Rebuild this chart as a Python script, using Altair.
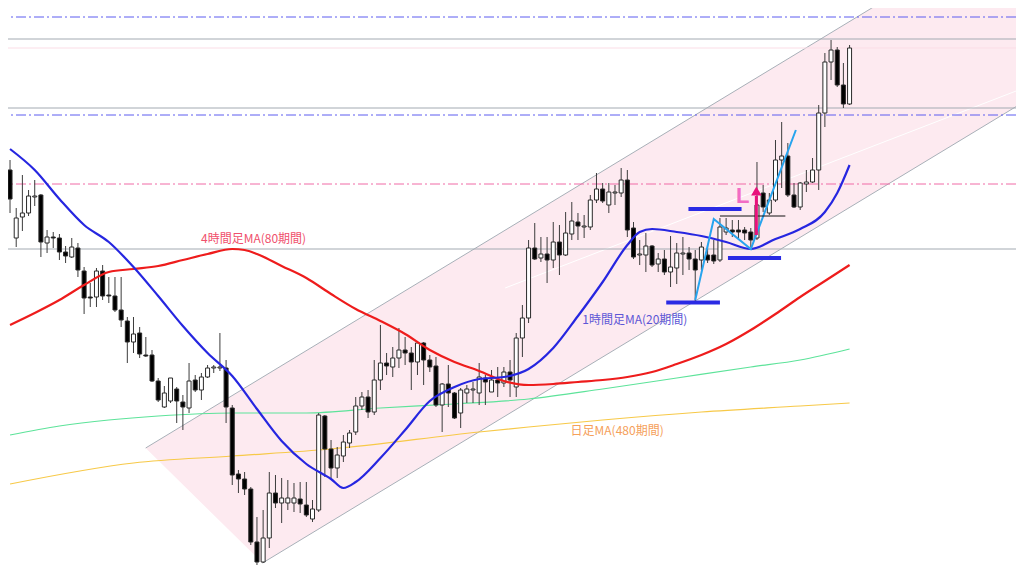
import altair as alt
import pandas as pd

# ---------------- candle data (bar index 0..136) ----------------
bar_index = list(range(137))
opens = [148.30,147.62,147.83,147.87,148.03,148.05,147.57,147.63,147.62,147.48,
         147.43,147.52,147.29,147.03,147.03,147.29,147.05,147.04,146.90,146.79,
         146.58,146.67,146.45,146.45,146.19,145.93,145.99,146.11,145.98,145.92,
         146.20,146.10,146.23,146.32,146.32,146.32,145.92,145.26,145.21,145.11,
         144.58,144.38,144.62,145.07,144.97,144.97,144.97,145.01,144.95,144.81,
         144.90,145.84,145.51,145.32,145.44,145.57,145.68,145.94,146.03,145.88,
         146.20,146.37,146.33,146.42,146.50,146.47,146.38,146.57,146.40,146.34,
         145.95,146.16,146.07,145.87,146.07,146.10,146.07,146.22,146.08,146.20,
         146.17,146.28,146.13,146.62,146.82,147.52,147.42,147.46,147.40,147.58,
         147.45,147.66,147.78,147.73,147.73,148.00,148.11,147.95,148.07,148.07,
         148.20,147.72,147.45,147.45,147.54,147.36,147.41,147.28,147.32,147.46,
         147.47,147.41,147.40,147.45,147.45,147.40,147.68,147.70,147.70,147.70,
         147.68,147.62,148.07,147.87,148.00,148.40,148.44,148.05,147.93,148.16,
         148.18,148.30,148.87,149.38,149.50,149.15,148.96]
closes = [148.01,147.82,147.87,148.04,148.04,147.58,147.63,147.62,147.48,147.44,
          147.53,147.30,147.02,147.02,147.29,147.04,147.04,146.90,146.80,146.58,
          146.66,146.46,146.44,146.19,146.00,146.07,146.22,145.99,145.93,146.19,
          146.10,146.23,146.32,146.33,146.33,145.93,145.25,145.21,145.11,144.58,
          144.38,144.62,145.07,144.97,145.02,145.02,145.02,144.96,144.85,144.91,
          145.85,145.51,145.32,145.45,145.58,145.67,145.94,146.03,145.88,146.20,
          146.37,146.34,146.42,146.50,146.47,146.38,146.57,146.40,146.33,145.95,
          146.16,146.07,145.82,146.10,146.11,146.11,146.23,146.18,146.20,146.17,
          146.28,146.20,146.62,146.82,147.52,147.41,147.46,147.40,147.58,147.45,
          147.67,147.79,147.74,147.74,148.00,148.11,147.99,148.08,148.08,148.20,
          147.70,147.43,147.46,147.54,147.35,147.41,147.28,147.33,147.47,147.47,
          147.41,147.30,147.53,147.40,147.39,147.73,147.72,147.68,147.68,147.67,
          147.60,147.95,147.93,148.00,148.40,148.44,148.05,147.93,148.17,148.18,
          148.30,148.87,149.38,149.50,149.15,148.96,149.52]
highs = [148.40,147.92,148.25,148.10,148.20,148.06,147.70,147.68,147.66,147.54,
         147.62,147.57,147.33,147.17,147.32,147.35,147.23,147.23,147.23,146.83,
         146.83,146.73,146.63,146.50,146.22,146.14,146.22,146.13,146.05,146.37,
         146.25,146.27,146.35,146.35,146.67,146.40,145.95,145.30,145.28,145.13,
         144.83,144.90,145.28,145.25,145.22,145.20,145.17,145.18,145.18,145.00,
         145.87,145.85,145.60,145.53,145.65,145.70,146.03,146.08,146.10,146.40,
         146.75,146.47,146.53,146.72,146.63,146.53,146.58,146.58,146.45,146.43,
         146.17,146.35,146.08,146.12,146.15,146.18,146.37,146.25,146.30,146.33,
         146.33,146.40,146.67,146.95,147.60,147.77,147.63,147.63,147.78,147.75,
         147.88,147.98,147.87,147.85,148.05,148.27,148.17,148.17,148.15,148.32,
         148.30,147.78,147.60,147.67,147.55,147.47,147.50,147.64,147.57,147.63,
         147.53,147.50,147.58,147.55,147.60,147.82,147.82,147.80,147.80,147.73,
         147.72,148.38,148.15,148.07,148.60,148.78,148.57,148.17,148.18,148.30,
         148.42,148.95,149.47,149.60,149.53,149.37,149.55]
lows = [147.87,147.53,147.69,147.84,147.94,147.43,147.47,147.52,147.40,147.37,
        147.42,147.23,146.86,146.93,146.93,147.00,146.97,146.88,146.73,146.37,
        146.47,146.42,146.43,146.18,145.98,145.92,145.97,145.77,145.70,145.87,
        146.08,146.00,146.22,146.27,146.29,145.77,145.15,145.07,145.05,144.55,
        144.35,144.37,144.52,144.92,144.77,144.90,144.88,144.87,144.83,144.78,
        144.88,145.23,145.22,145.22,145.38,145.52,145.65,145.90,145.82,145.85,
        146.10,146.25,146.23,146.32,146.35,146.10,146.25,146.15,146.28,145.93,
        145.68,145.93,145.81,145.72,145.97,145.97,145.95,145.95,146.08,146.03,
        146.13,146.03,146.03,146.43,146.77,147.40,147.38,147.17,147.32,147.25,
        147.44,147.60,147.60,147.62,147.70,147.97,147.97,147.87,147.95,148.03,
        147.63,147.41,147.35,147.28,147.33,147.28,147.25,147.13,147.16,147.25,
        147.30,146.99,147.30,147.37,147.36,147.38,147.65,147.63,147.62,147.60,
        147.53,147.60,147.88,147.85,147.98,148.12,148.03,147.92,147.90,148.08,
        148.17,148.10,148.73,149.20,149.13,148.92,148.95]

# ---------------- moving averages ----------------
ma20_1h_idx = [0,4,8,12,16,20,24,28,32,36,40,44,48,52,54,56,60,64,68,72,76,80,84,88,92,96,
               100,102,104,108,112,116,120,124,128,132,134,136]
ma20_1h = [148.51,148.30,148.01,147.75,147.58,147.33,147.04,146.74,146.47,146.24,145.91,145.59,
           145.36,145.21,145.12,145.18,145.42,145.70,145.99,146.13,146.21,146.23,146.31,146.52,
           146.84,147.18,147.55,147.68,147.71,147.68,147.64,147.58,147.51,147.61,147.71,147.88,
           148.07,148.35]
ma80_4h_idx = [0,4,8,12,16,20,24,28,32,36,38,40,44,48,52,56,60,64,68,72,76,80,84,88,92,96,
               100,104,108,112,116,120,124,128,132,136]
ma80_4h = [146.75,146.87,147.00,147.15,147.28,147.31,147.34,147.40,147.46,147.51,147.50,147.46,
           147.34,147.22,147.06,146.91,146.79,146.66,146.50,146.38,146.29,146.19,146.15,146.16,
           146.18,146.20,146.23,146.28,146.36,146.45,146.56,146.70,146.86,147.03,147.19,147.35]
ma_green_idx = [0,8,16,24,36,48,60,72,84,96,108,120,128,136]
ma_green = [145.65,145.74,145.80,145.84,145.87,145.87,145.92,145.96,146.01,146.11,146.22,146.33,
            146.40,146.51]
ma480_d_idx = [0,20,36,52,76,84,96,112,128,136]
ma480_d = [145.16,145.37,145.44,145.51,145.68,145.73,145.80,145.88,145.94,145.97]

# ---------------- channel (bar index, price) ----------------
chan_idx = [21.97, 40.90, 163.4]
chan_top = [145.52, 146.228, 150.81]
chan_bot = [145.52, 144.37, 148.95]
mid_line_idx = [80.2, 163.4]
mid_line_val = [147.12, 149.10]

# ---------------- horizontal levels ----------------
gray_levels = [149.61, 148.92, 147.51]
blue_levels = [149.83, 148.85]
pink_levels = [148.16]
faint_levels = [149.52]

# ---------------- annotations ----------------
hbar_x1 = [106.3, 109.9, 116.3]
hbar_x2 = [115.0, 118.5, 124.9]
hbar_p = [146.975, 147.91, 147.42]
zig_idx = [111.0, 114.0, 120.0, 127.3]
zig_val = [147.00, 147.81, 147.51, 148.70]
neck_x1, neck_x2, neck_p = [115.0], [125.6], [147.84]
arrow_idx, arrow_from, arrow_to, arrow_head = [120.9], [147.65], [148.04], [148.09]

labels = ["4時間足MA(80期間)", "1時間足MA(20期間)", "日足MA(480期間)"]
label_idx = [39.45, 92.7, 90.8]
label_val = [147.57, 146.76, 145.65]
label_col = ["#f0506c", "#5d57d6", "#f5a05a"]
label_align = ["center", "left", "left"]

# ---------------- build ----------------
X = alt.Scale(domain=[0.481, 162.15], nice=False, zero=False)
Y = alt.Scale(domain=[144.32, 149.92], nice=False, zero=False)


def xq(f):
    return alt.X(f, type="quantitative", scale=X, axis=None)


def yq(f):
    return alt.Y(f, type="quantitative", scale=Y, axis=None)


candles = pd.DataFrame({"i": bar_index, "open": opens, "close": closes, "high": highs, "low": lows})

chan = pd.DataFrame({"i": chan_idx, "top": chan_top, "bot": chan_bot})
area = alt.Chart(chan).mark_area(color="#fdeaf0", clip=True).encode(
    x=xq("i"), y=yq("top"), y2="bot")

chan_lines = pd.DataFrame({
    "i": [chan_idx[0], chan_idx[2], chan_idx[1], chan_idx[2]],
    "p": [chan_top[0], chan_top[2], chan_bot[1], chan_bot[2]],
    "g": ["up", "up", "lo", "lo"]})
chan_l = alt.Chart(chan_lines).mark_line(color="#a8b0b8", strokeWidth=1, clip=True).encode(
    x=xq("i"), y=yq("p"), detail="g:N")
mid_l = alt.Chart(pd.DataFrame({"i": mid_line_idx, "p": mid_line_val})).mark_line(
    color="#ffffff", strokeWidth=1, clip=True).encode(x=xq("i"), y=yq("p"))


def hlines(vals, color, dash=None, width=1.0):
    kw = dict(color=color, strokeWidth=width)
    if dash:
        kw["strokeDash"] = dash
    return alt.Chart(pd.DataFrame({"p": vals})).mark_rule(**kw).encode(y=yq("p"))


h_faint = hlines(faint_levels, "#fbdde6")
h_gray = hlines(gray_levels, "#a3aab2")
h_blue = hlines(blue_levels, "#5c5cf0", [10, 3, 2, 3])
h_pink = hlines(pink_levels, "#f06aa6", [10, 3, 2, 3])


def ma(idx, vals, color, width):
    return alt.Chart(pd.DataFrame({"i": idx, "p": vals})).mark_line(
        color=color, strokeWidth=width, interpolate="monotone", clip=True).encode(
        x=xq("i"), y=yq("p"))


ma_y = ma(ma480_d_idx, ma480_d, "#f7c948", 1.2)
ma_g = ma(ma_green_idx, ma_green, "#5de39a", 1.2)
ma_r = ma(ma80_4h_idx, ma80_4h, "#ee1c1c", 2.2)
ma_b = ma(ma20_1h_idx, ma20_1h, "#2626e0", 2.2)

wick = alt.Chart(candles).mark_rule(color="#3c3c3c", strokeWidth=1, clip=True).encode(
    x=xq("i"), y=yq("low"), y2="high")
body = alt.Chart(candles).mark_bar(size=4, stroke="#2a2a2a", strokeWidth=1, clip=True).encode(
    x=xq("i"), y=yq("open"), y2="close",
    fill=alt.condition("datum.close >= datum.open", alt.value("#ffffff"), alt.value("#000000")))

hb = alt.Chart(pd.DataFrame({"a": hbar_x1, "b": hbar_x2, "p": hbar_p})).mark_rule(
    color="#2a2ae4", strokeWidth=4).encode(x=xq("a"), x2="b", y=yq("p"))
zig = alt.Chart(pd.DataFrame({"i": zig_idx, "p": zig_val})).mark_line(
    color="#27a4ee", strokeWidth=2).encode(x=xq("i"), y=yq("p"))
neck = alt.Chart(pd.DataFrame({"a": neck_x1, "b": neck_x2, "p": neck_p})).mark_rule(
    color="#111111", strokeWidth=1).encode(x=xq("a"), x2="b", y=yq("p"))
arrow_df = pd.DataFrame({"i": arrow_idx, "a": arrow_from, "b": arrow_to, "h": arrow_head})
shaft = alt.Chart(arrow_df).mark_rule(color="#e8127c", strokeWidth=3).encode(
    x=xq("i"), y=yq("a"), y2="b")
head = alt.Chart(arrow_df).mark_point(shape="triangle-up", filled=True, size=110,
                                      color="#e8127c", opacity=1).encode(x=xq("i"), y=yq("h"))
lmark = alt.Chart(pd.DataFrame({"t": ["L"], "i": [117.6], "p": [147.97]})).mark_text(
    font="Liberation Sans", fontSize=22, fontWeight="bold", color="#f26cc4",
    align="left", baseline="alphabetic").encode(x=xq("i"), y=yq("p"), text="t:N")

texts = []
for t, xi, yv, c, al in zip(labels, label_idx, label_val, label_col, label_align):
    texts.append(alt.Chart(pd.DataFrame({"t": [t], "i": [xi], "p": [yv]})).mark_text(
        font="Noto Sans CJK JP", fontSize=12, color=c, align=al, baseline="alphabetic").encode(
        x=xq("i"), y=yq("p"), text="t:N"))

chart = alt.layer(
    area, chan_l, mid_l, h_faint, h_gray, h_blue, h_pink, ma_y, ma_g,
    wick, body, ma_r, ma_b, hb, zig, neck, shaft, head, lmark, *texts
).properties(
    width=1008, height=560, padding=0, autosize="none", background="#ffffff"
).configure_view(stroke=None)

chart.save("out.html", embed_options={"renderer": "svg", "actions": False})
